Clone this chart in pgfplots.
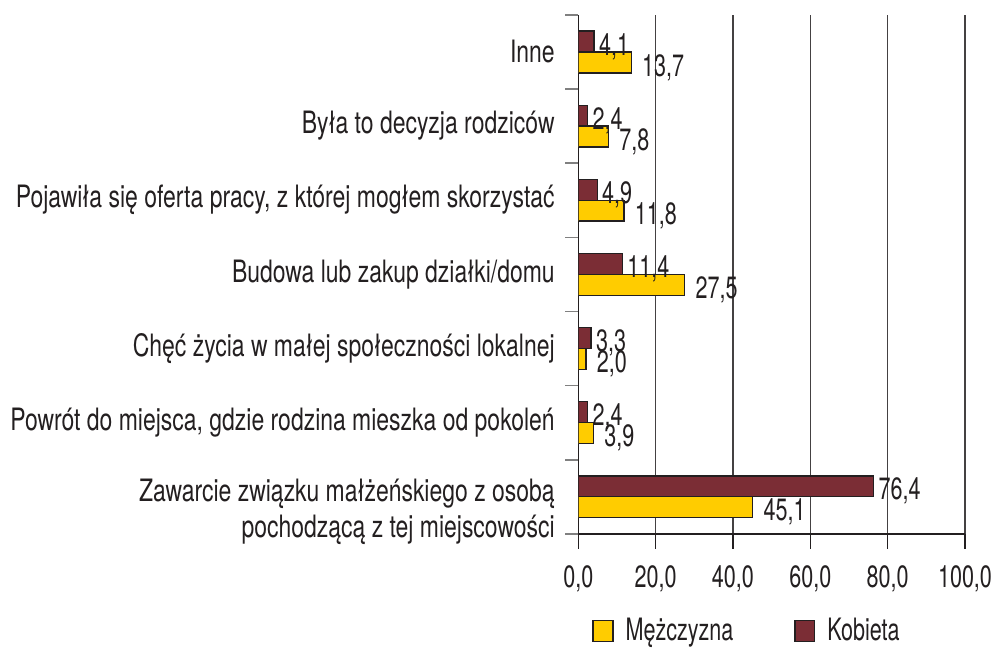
\documentclass[border=0pt]{standalone}
\usepackage{fontspec}
\setmainfont{TeX Gyre Heros}[FakeStretch=0.70]
\newfontfamily\catfont{TeX Gyre Heros}[FakeStretch=0.745]
\usepackage{pgfplots}
\pgfplotsset{compat=1.18}
\definecolor{kob}{HTML}{7B2D35}
\definecolor{mez}{HTML}{FFCC00}
\definecolor{txt}{HTML}{231F20}
\begin{document}
\fontsize{15.5}{18}\selectfont
\begin{tikzpicture}
\begin{axis}[
  width=194.5pt, height=261pt, scale only axis,
  xbar, bar width=10.5pt,
  xmin=0, xmax=100, ymin=-0.5, ymax=6.5,
  axis x line*=bottom, axis y line*=left,
  axis line style={txt, line width=0.7pt},
  xtick={0,20,...,100}, xmajorgrids,
  grid style={txt!85, line width=0.7pt},
  tick align=outside, major tick length=7.5pt,
  every major x tick/.append style={txt, line width=0.7pt},
  xticklabel style={yshift=-3pt, text=txt, inner xsep=0pt},
  ytick={1,...,6},
  yticklabels={Powrót do miejsca{,} gdzie rodzina mieszka od pokoleń,
    Chęć życia w małej społeczności lokalnej,
    Budowa lub zakup działki/domu,
    Pojawiła się oferta pracy{,} z której mogłem skorzystać,
    Była to decyzja rodziców,
    Inne},
  extra y ticks={0},
  extra y tick labels={{Zawarcie związku małżeńskiego z osobą\\pochodzącą z tej miejscowości}},
  extra y tick style={yticklabel style={yshift=-7.5pt}},
  every major y tick/.append style={draw=none},
  minor ytick={-0.5,0.5,...,6.5},
  every minor y tick/.append style={gray, line width=0.8pt},
  minor tick length=6.5pt,
  yticklabel style={align=right, xshift=1pt, text=txt, font=\catfont},
  /pgf/number format/use comma,
  /pgf/number format/fixed,
  /pgf/number format/fixed zerofill,
  /pgf/number format/precision=1,
  /pgf/number format/assume math mode=true,
  nodes near coords,
  legend style={at={(0.02,-0.146)}, anchor=north west, draw=none, fill=none,
    legend columns=2, text=txt, /tikz/every even column/.append style={column sep=28.5pt}},
  legend image code/.code={\draw[#1, draw=txt, line width=0.7pt] (0pt,-5pt) rectangle (10pt,5.5pt); \path (14pt,0pt);},
]
\addplot[fill=mez, draw=txt, line width=0.7pt, bar shift=-5.25pt,
  nodes near coords style={anchor=west, xshift=0pt, yshift=-2.5pt, text=txt}]
  coordinates {(45.1,0) (3.9,1) (2.0,2) (27.5,3) (11.8,4) (7.8,5) (13.7,6)};
\addlegendentry{Mężczyzna}
\addplot[fill=kob, draw=txt, line width=0.7pt, bar shift=5.25pt,
  nodes near coords style={anchor=west, xshift=-3pt, yshift=-2.5pt, text=txt}]
  coordinates {(76.4,0) (2.4,1) (3.3,2) (11.4,3) (4.9,4) (2.4,5) (4.1,6)};
\addlegendentry{Kobieta}
\end{axis}
\path ([yshift=7.5pt]current axis.north);
\end{tikzpicture}
\end{document}
